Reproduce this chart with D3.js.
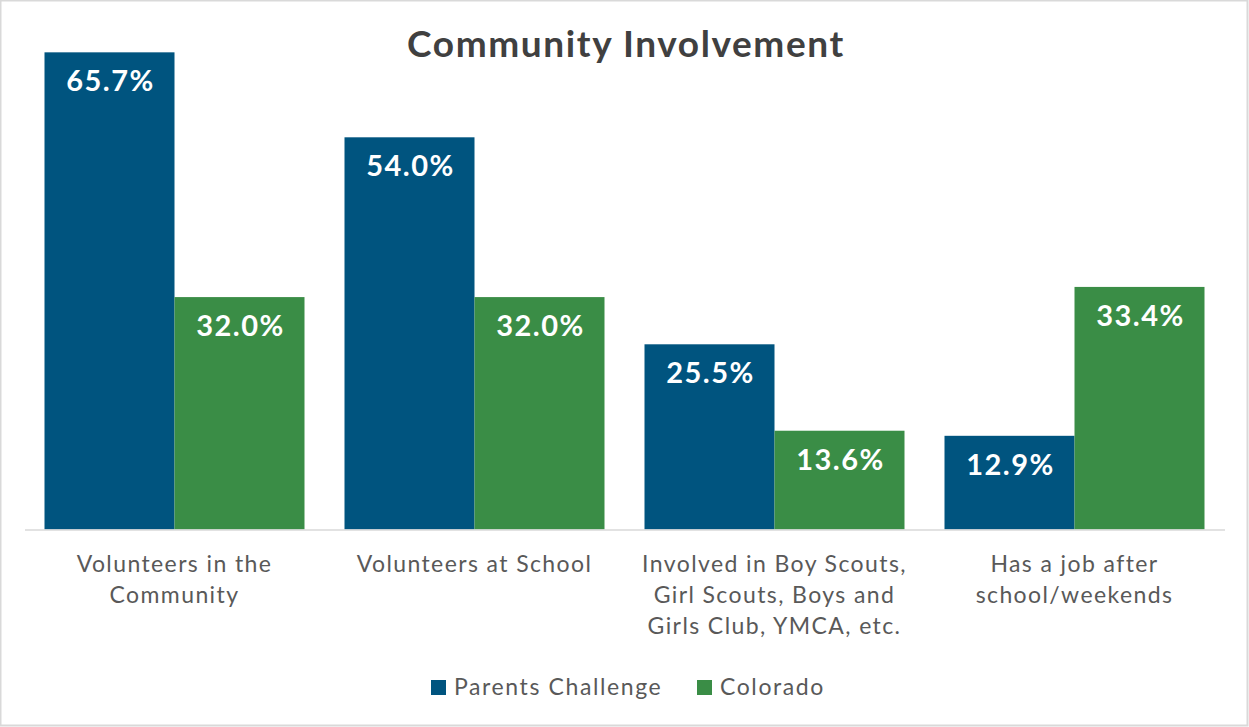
<!DOCTYPE html>
<html>
<head>
<meta charset="utf-8">
<script src="https://cdn.jsdelivr.net/npm/d3@7"></script>
<style>
  html, body { margin: 0; padding: 0; background: #fff; }
  svg { display: block; font-family: Lato, "Open Sans", sans-serif; }
</style>
</head>
<body>
<svg id="chart" width="1249" height="727"></svg>
<script>
// Community involvement: share of respondents, by group
const categories = [
  ["Volunteers in the", "Community"],
  ["Volunteers at School"],
  ["Involved in Boy Scouts,", "Girl Scouts, Boys and", "Girls Club, YMCA, etc."],
  ["Has a job after", "school/weekends"]
];
const seriesNames = ["Parents Challenge", "Colorado"];
const parentsChallenge = [65.7, 54.0, 25.5, 12.9];
const colorado = [32.0, 32.0, 13.6, 33.4];
const seriesColors = ["#00547F", "#3A8D46"];

const W = 1249, H = 727;
const svg = d3.select("#chart");

// outer frame
svg.append("rect")
  .attr("x", 0.5).attr("y", 0.5)
  .attr("width", W - 2).attr("height", H - 2)
  .attr("fill", "#fff").attr("stroke", "#d9d9d9").attr("stroke-width", 2);

const catKeys = categories.map(c => c.join(" "));
const x0 = d3.scaleBand().domain(catKeys).range([24.5, 1224.5])
  .paddingInner(40 / 300).paddingOuter(20 / 300);
const x1 = d3.scaleBand().domain(seriesNames).range([0, x0.bandwidth()]);
const y = d3.scaleLinear().domain([0, 70]).range([529.5, 21.1]);

const rows = catKeys.map((k, i) => ({
  key: k,
  values: [parentsChallenge[i], colorado[i]]
}));

const g = svg.append("g");
const groups = g.selectAll("g.cat").data(rows).join("g")
  .attr("class", "cat")
  .attr("transform", d => `translate(${x0(d.key)},0)`);

groups.selectAll("rect").data(d => d.values.map((v, j) => ({ v, s: seriesNames[j], j })))
  .join("rect")
  .attr("x", d => x1(d.s))
  .attr("y", d => y(d.v))
  .attr("width", x1.bandwidth())
  .attr("height", d => y(0) - y(d.v))
  .attr("fill", d => seriesColors[d.j]);

groups.selectAll("text.val").data(d => d.values.map((v, j) => ({ v, s: seriesNames[j] })))
  .join("text")
  .attr("class", "val")
  .attr("x", d => x1(d.s) + x1.bandwidth() / 2 + 1)
  .attr("y", d => y(d.v) + 39)
  .attr("text-anchor", "middle")
  .attr("fill", "#fff")
  .attr("font-weight", 700)
  .attr("font-size", 29)
  .attr("letter-spacing", 1.5)
  .text(d => d.v.toFixed(1) + "%");

// category axis
const axis = d3.axisBottom(x0).tickSize(0).tickFormat("");
const axG = svg.append("g").attr("transform", `translate(0,${y(0)})`).call(axis);
axG.select(".domain").attr("stroke", "#d9d9d9").attr("stroke-width", 1.5);

const labels = svg.append("g").selectAll("text").data(categories.map((c, i) => ({ lines: c, key: catKeys[i] })))
  .join("text")
  .attr("text-anchor", "middle")
  .attr("fill", "#595959")
  .attr("font-size", 23)
  .attr("letter-spacing", 1.4);
labels.each(function (d) {
  const t = d3.select(this);
  d.lines.forEach((ln, i) => {
    t.append("tspan")
      .attr("x", x0(d.key) + x0.bandwidth() / 2)
      .attr("y", 572 + i * 31)
      .text(ln);
  });
});

// title
svg.append("text")
  .attr("x", 626).attr("y", 56.5)
  .attr("text-anchor", "middle")
  .attr("fill", "#404040")
  .attr("font-weight", 700)
  .attr("font-size", 37)
  .attr("letter-spacing", 1.6)
  .text("Community Involvement");

// legend
const legend = svg.append("g");
const legendX = [431, 697];
seriesNames.forEach((name, i) => {
  const lg = legend.append("g").attr("transform", `translate(${legendX[i]},0)`);
  lg.append("rect").attr("x", 0).attr("y", 680).attr("width", 15).attr("height", 15)
    .attr("fill", seriesColors[i]);
  lg.append("text").attr("x", 23).attr("y", 695)
    .attr("fill", "#595959").attr("font-size", 23)
    .attr("letter-spacing", 1.6)
    .text(name);
});
</script>
</body>
</html>
